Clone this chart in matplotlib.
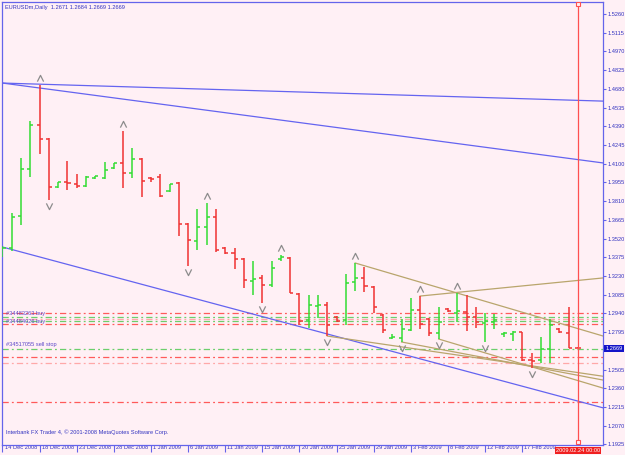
import matplotlib
matplotlib.use("Agg")
import matplotlib.pyplot as plt
from matplotlib.path import Path
from matplotlib.transforms import ScaledTranslation, blended_transform_factory

plt.rcParams['font.family'] = ['Liberation Sans', 'DejaVu Sans']

# daily OHLC, one entry per bar (Sun-Fri), 14 Dec 2008 .. 24 Feb 2009
opens = [1.3416, 1.3447, 1.3695, 1.4059, 1.4400, 1.4290, 1.3920, 1.3958, 1.3943, 1.3927,
         1.3989, 1.3989, 1.4067, 1.4106, 1.4028, 1.4137, 1.3989, 1.3997, 1.3889, 1.3951,
         1.3633, 1.3501, 1.3610, 1.3687, 1.3447, 1.3408, 1.3362, 1.3192, 1.3215, 1.3161,
         1.3362, 1.3370, 1.3091, 1.2889, 1.2998, 1.3005, 1.2912, 1.2889, 1.3184, 1.3215,
         1.3145, 1.2928, 1.2750, 1.2750, 1.2812, 1.2967, 1.2897, 1.2788, 1.2974, 1.2943,
         1.2951, 1.2912, 1.2866, 1.2874, 1.2781, 1.2781, 1.2796, 1.2579, 1.2579, 1.2664,
         1.2819, 1.2788, 1.2671]
highs = [1.3462, 1.3718, 1.4144, 1.4431, 1.4710, 1.4300, 1.3958, 1.4121, 1.4020, 1.4005,
         1.4005, 1.4113, 1.4106, 1.4353, 1.4222, 1.4144, 1.3997, 1.4020, 1.3943, 1.3958,
         1.3640, 1.3749, 1.3796, 1.3749, 1.3453, 1.3447, 1.3370, 1.3347, 1.3238, 1.3347,
         1.3393, 1.3377, 1.3098, 1.3083, 1.3083, 1.3029, 1.2920, 1.3246, 1.3331, 1.3300,
         1.3153, 1.2936, 1.2781, 1.2897, 1.3060, 1.3075, 1.2905, 1.2990, 1.2982, 1.3098,
         1.3083, 1.2990, 1.2943, 1.2936, 1.2796, 1.2804, 1.2800, 1.2633, 1.2757, 1.2897,
         1.2827, 1.2990, 1.2684]
lows = [1.3377, 1.3424, 1.3625, 1.3997, 1.4175, 1.3819, 1.3912, 1.3896, 1.3912, 1.3920,
        1.3982, 1.3982, 1.4059, 1.3912, 1.3989, 1.3842, 1.3958, 1.3842, 1.3881, 1.3540,
        1.3308, 1.3431, 1.3470, 1.3416, 1.3400, 1.3284, 1.3138, 1.3083, 1.3021, 1.3145,
        1.3346, 1.3098, 1.2850, 1.2827, 1.2905, 1.2765, 1.2874, 1.2850, 1.3114, 1.3106,
        1.2943, 1.2788, 1.2742, 1.2719, 1.2804, 1.2819, 1.2765, 1.2742, 1.2951, 1.2874,
        1.2804, 1.2827, 1.2719, 1.2819, 1.2758, 1.2727, 1.2571, 1.2517, 1.2556, 1.2556,
        1.2788, 1.2672, 1.2669]
closes = [1.3447, 1.3687, 1.4059, 1.4400, 1.4292, 1.3920, 1.3958, 1.3951, 1.3927, 1.3997,
          1.4005, 1.4051, 1.4106, 1.4028, 1.4137, 1.3966, 1.3982, 1.3850, 1.3943, 1.3633,
          1.3509, 1.3610, 1.3687, 1.3431, 1.3408, 1.3362, 1.3200, 1.3207, 1.3161, 1.3292,
          1.3377, 1.3098, 1.2881, 1.3005, 1.3005, 1.2850, 1.2881, 1.3176, 1.3215, 1.3153,
          1.2990, 1.2812, 1.2757, 1.2819, 1.2967, 1.2858, 1.2788, 1.2874, 1.2959, 1.2959,
          1.2912, 1.2874, 1.2881, 1.2889, 1.2788, 1.2796, 1.2579, 1.2571, 1.2664, 1.2850,
          1.2796, 1.2672, 1.2669]

date_labels = ['14 Dec 2008', '18 Dec 2008', '23 Dec 2008', '28 Dec 2008', '1 Jan 2009',
               '6 Jan 2009', '11 Jan 2009', '15 Jan 2009', '20 Jan 2009', '25 Jan 2009',
               '29 Jan 2009', '3 Feb 2009', '8 Feb 2009', '12 Feb 2009', '17 Feb 2009']
date_bars = [0, 4, 8, 12, 16, 20, 24, 28, 32, 36, 40, 44, 48, 52, 56]

price_ticks = [1.5260, 1.5115, 1.4970, 1.4825, 1.4680, 1.4535, 1.4390, 1.4245, 1.4100,
               1.3955, 1.3810, 1.3665, 1.3520, 1.3375, 1.3230, 1.3085, 1.2940, 1.2795,
               1.2505, 1.2360, 1.2215, 1.2070, 1.1925]

fractal_up = [4, 13, 22, 30, 38, 45, 49]
fractal_down = [5, 20, 28, 35, 43, 47, 52, 57]

# trendlines as (bar, price) anchor pairs
channel_lines = [((0, 1.4725), (62, 1.4591)),
                 ((0, 1.4725), (62, 1.4132)),
                 ((0, 1.3455), (62, 1.2261))]
tan_rays = [((38, 1.3331), (49, 1.3098)),
            ((45, 1.3075), (62, 1.3196)),
            ((35, 1.2765), (62, 1.2482)),
            ((43, 1.2719), (62, 1.2461)),
            ((47, 1.2742), (62, 1.2420))]

order_levels = [1.2943, 1.2912, 1.2897, 1.2881, 1.2858, 1.2664, 1.2602, 1.2556, 1.2254]
order_kinds = ['sl', 'open', 'tp', 'open', 'sl', 'open', 'sl', 'tp', 'sl']
order_labels = ['#34483263 buy', '#34484026 buy', '#34517055 sell stop']
order_label_prices = [1.2936, 1.2881, 1.2696]

title = 'EURUSDm,Daily  1.2671 1.2684 1.2669 1.2669'
last_price = 1.2669
marker_bar = 62
marker_label = '2009.02.24 00:00'

BG = '#FFF0F5'
FRAME = '#6464EB'
TXT = '#3232C0'
BULL = '#33DD33'
BEAR = '#F03232'
FS = 4.1
kind_colors = {'sl': '#FF5A5A', 'open': '#6CCF6C', 'tp': '#FFA8A8'}

fig = plt.figure(figsize=(6.25, 4.55), dpi=100)
fig.patch.set_facecolor(BG)
ax = fig.add_axes([2 / 625, 10 / 455, 601 / 625, 443 / 455])
ax.set_facecolor(BG)
ax.set_xlim(-0.05, 64.7)
ax.set_ylim(1.1921, 1.5353)
x_end = 64.7

# order lines
for lvl, kind in zip(order_levels, order_kinds):
    ax.axhline(lvl, color=kind_colors[kind], lw=0.9, ls=(0, (5, 2.5, 1.5, 2.5)), zorder=1)

# trend lines
for p0, p1 in channel_lines:
    ax.axline(p0, p1, color='#6464F0', lw=0.9, zorder=2)
for (x0, y0), (x1, y1) in tan_rays:
    slope = (y1 - y0) / (x1 - x0)
    ax.plot([x0, x_end], [y0, y0 + slope * (x_end - x0)], color='#B9A56C', lw=0.9, zorder=2)

# OHLC bars
for i, (o, h, l, c) in enumerate(zip(opens, highs, lows, closes)):
    col = BULL if c >= o else BEAR
    ax.vlines(i, l, h, color=col, lw=1.1, zorder=3)
    ax.hlines(o, i - 0.33, i, color=col, lw=1.1, zorder=3)
    ax.hlines(c, i, i + 0.33, color=col, lw=1.1, zorder=3)

# fractals
up = Path([(-1, -1), (0, 1), (1, -1)], [Path.MOVETO, Path.LINETO, Path.LINETO])
down = Path([(-1, 1), (0, -1), (1, 1)], [Path.MOVETO, Path.LINETO, Path.LINETO])
up_tr = ax.transData + ScaledTranslation(0, 5 / 72, fig.dpi_scale_trans)
dn_tr = ax.transData + ScaledTranslation(0, -4 / 72, fig.dpi_scale_trans)
ax.plot(fractal_up, [highs[i] for i in fractal_up], ls='none', marker=up, ms=4.5,
        mfc='none', mec='#8C8C8C', mew=0.9, transform=up_tr, zorder=4)
ax.plot(fractal_down, [lows[i] for i in fractal_down], ls='none', marker=down, ms=4.5,
        mfc='none', mec='#8C8C8C', mew=0.9, transform=dn_tr, zorder=4)

# vertical date marker
ax.axvline(marker_bar, color='#FF5050', lw=0.9, zorder=5)
vtr = blended_transform_factory(ax.transData, ax.transAxes)
ax.plot([marker_bar, marker_bar], [0.996, 0.007], ls='none', marker='s', ms=2.5,
        mfc=BG, mec='#FF5050', mew=0.8, transform=vtr, zorder=6)
ax.text(marker_bar, -0.006, marker_label, transform=vtr, ha='center', va='top',
        fontsize=FS, color='white',
        bbox=dict(boxstyle='square,pad=0.2', fc='#F02020', ec='none'))

# texts
ax.text(3 / 601, 1 - 3 / 443, title, transform=ax.transAxes, ha='left', va='top',
        fontsize=FS, color=TXT)
ax.text(4 / 601, 13 / 443, 'Interbank FX Trader 4, \u00a9 2001-2008 MetaQuotes Software Corp.',
        transform=ax.transAxes, ha='left', va='center', fontsize=FS, color=TXT)
ltr = blended_transform_factory(ax.transAxes, ax.transData)
for lab, p in zip(order_labels, order_label_prices):
    ax.text(4 / 601, p, lab, transform=ltr, ha='left', va='center', fontsize=FS,
            color='#5A46C8', zorder=6)

# current price box
ax.text(1.004, last_price, f'{last_price:.4f}', transform=ltr, ha='left',
        va='center', fontsize=FS, color='white', zorder=7, clip_on=False,
        bbox=dict(boxstyle='square,pad=0.25', fc='#1414C8', ec='none'))

# axes styling
for s in ax.spines.values():
    s.set_color(FRAME)
    s.set_linewidth(0.9)
ax.yaxis.tick_right()
ax.set_yticks(price_ticks)
ax.set_yticklabels([f'{v:.4f}' for v in price_ticks])
ax.tick_params(axis='y', direction='out', length=2.2, width=0.8, color=FRAME,
               labelsize=FS, labelcolor=TXT, pad=1.2)
ax.set_xticks(date_bars)
ax.set_xticklabels(date_labels, ha='left')
ax.tick_params(axis='x', direction='out', length=5, width=0.8, color=FRAME,
               labelsize=FS, labelcolor=TXT, pad=-5)
for lab in ax.get_xticklabels():
    lab.set_transform(lab.get_transform() + ScaledTranslation(1.5 / 72, 0, fig.dpi_scale_trans))

fig.savefig('out.png', dpi=100, facecolor=BG)
